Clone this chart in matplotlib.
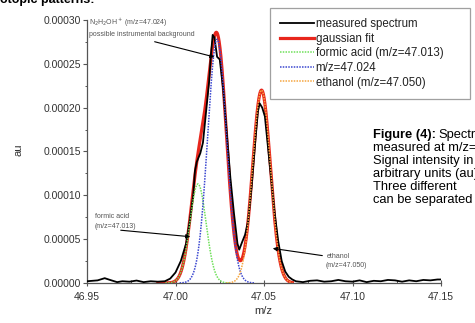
import numpy as np
import matplotlib
matplotlib.use("Agg")
import matplotlib.pyplot as plt
from matplotlib.ticker import MultipleLocator, FormatStrFormatter

plt.rcParams['font.family'] = ['Liberation Sans', 'DejaVu Sans']

# measured spectrum (m/z, au)
mz_meas = [46.950, 46.953, 46.956, 46.960, 46.963, 46.967, 46.970, 46.974, 46.978,
           46.982, 46.986, 46.990, 46.994, 46.997, 47.000, 47.003, 47.006, 47.008,
           47.010, 47.011, 47.012, 47.014, 47.0155, 47.017, 47.019, 47.020, 47.021,
           47.022, 47.0235, 47.025, 47.027, 47.029, 47.031, 47.033, 47.035, 47.036,
           47.0375, 47.0393, 47.041, 47.043, 47.045, 47.0465, 47.0475, 47.049,
           47.0505, 47.052, 47.054, 47.056, 47.058, 47.060, 47.062, 47.064, 47.066,
           47.068, 47.072, 47.076, 47.080, 47.084, 47.088, 47.092, 47.096, 47.100,
           47.104, 47.108, 47.112, 47.116, 47.120, 47.124, 47.128, 47.132, 47.136,
           47.140, 47.144, 47.148, 47.150]
au_meas = [2.0e-6, 2.5e-6, 3.0e-6, 5.5e-6, 3.5e-6, 1.0e-6, 2.0e-6, 1.5e-6, 2.8e-6,
           1.0e-6, 2.0e-6, 1.5e-6, 2.0e-6, 5.0e-6, 1.2e-5, 2.5e-5, 4.5e-5, 7.0e-5,
           1.0e-4, 1.28e-4, 1.38e-4, 1.48e-4, 1.60e-4, 1.90e-4, 2.30e-4, 2.60e-4, 2.83e-4,
           2.80e-4, 2.58e-4, 2.55e-4, 2.20e-4, 1.70e-4, 1.20e-4, 8.0e-5, 4.5e-5, 3.8e-5,
           4.6e-5, 5.5e-5, 7.0e-5, 1.10e-4, 1.60e-4, 1.95e-4, 2.05e-4, 2.00e-4,
           1.90e-4, 1.60e-4, 1.20e-4, 8.0e-5, 4.8e-5, 2.5e-5, 1.3e-5, 7.0e-6, 4.0e-6,
           2.0e-6, 1.0e-6, 2.5e-6, 3.0e-6, 1.5e-6, 2.0e-6, 3.5e-6, 2.0e-6, 1.5e-6,
           3.0e-6, 1.0e-6, 2.5e-6, 2.0e-6, 3.5e-6, 3.0e-6, 1.5e-6, 3.0e-6, 2.0e-6,
           3.5e-6, 3.0e-6, 4.0e-6, 4.0e-6]

# gaussian components: formic acid, m/z=47.024, ethanol
comp_labels = ["formic acid (m/z=47.013)", "m/z=47.024", "ethanol (m/z=47.050)"]
comp_center = [47.0127, 47.0235, 47.0486]
comp_height = [1.13e-4, 2.78e-4, 2.20e-4]
comp_sigma = [0.0046, 0.0053, 0.0050]
comp_colors = ["#6fe05a", "#3a46d0", "#f5a640"]

fig = plt.figure(figsize=(4.75, 3.23), dpi=100)
W, H = 475, 323
ax = fig.add_axes([87 / W, 1 - 283 / H, (441 - 87) / W, (283 - 20) / H])

x = np.linspace(46.99, 47.066, 600)
comps = [h * np.exp(-(x - c) ** 2 / (2 * s ** 2))
         for c, h, s in zip(comp_center, comp_height, comp_sigma)]
fit = np.sum(comps, axis=0)

ax.plot(x, fit, color="#e8261c", lw=2.3, zorder=2, label="gaussian fit")
ax.plot(mz_meas, au_meas, color="black", lw=1.3, zorder=3, label="measured spectrum")
for i in range(3):
    c, s = comp_center[i], comp_sigma[i]
    m = (x > c - 4 * s) & (x < c + 4 * s)
    ax.plot(x[m], comps[i][m], color=comp_colors[i], lw=1.1, ls=(0, (1, 0.8)),
            zorder=4, label=comp_labels[i])

ax.set_xlim(46.95, 47.15)
ax.set_ylim(0, 0.0003)
for sp in ["top", "right"]:
    ax.spines[sp].set_visible(False)
for sp in ["left", "bottom"]:
    ax.spines[sp].set_color("#555555")
    ax.spines[sp].set_linewidth(0.9)

ax.xaxis.set_major_locator(MultipleLocator(0.05))
ax.xaxis.set_minor_locator(MultipleLocator(0.025))
ax.yaxis.set_major_locator(MultipleLocator(0.00005))
ax.yaxis.set_minor_locator(MultipleLocator(0.000025))
ax.xaxis.set_major_formatter(FormatStrFormatter("%.2f"))
ax.yaxis.set_major_formatter(FormatStrFormatter("%.5f"))
ax.tick_params(axis="x", which="major", direction="inout", length=5, width=0.8,
               color="#555555", labelsize=7.5, labelcolor="#333333", pad=4)
ax.tick_params(axis="x", which="minor", direction="in", length=2.5, width=0.7, color="#555555")
ax.tick_params(axis="y", which="major", direction="out", length=3, width=0.8,
               color="#555555", labelsize=7.5, labelcolor="#333333", pad=1.5)
ax.tick_params(axis="y", which="minor", direction="out", length=1.5, width=0.7, color="#555555")

fig.text(18 / W, 1 - 150 / H, "au", rotation=90, ha="center", va="center",
         fontsize=8, color="#333333")
fig.text(263 / W, 1 - 311 / H, "m/z", ha="center", va="center", fontsize=8, color="#333333")

# annotations
acol = "#555555"
ax.text(46.951, 0.000297, r"N$_2$H$_2$OH$^+$ (m/z=47.024)", fontsize=5, color=acol,
        va="center", ha="left")
ax.text(46.951, 0.000284, "possible instrumental background", fontsize=5, color=acol,
        va="center", ha="left")
ax.annotate("", xy=(47.0235, 0.000257), xytext=(46.9867, 0.000276),
            arrowprops=dict(arrowstyle="-|>", color="black", lw=0.8, mutation_scale=6),
            zorder=6)
ax.text(46.9545, 0.0000764, "formic acid", fontsize=5, color=acol, va="center", ha="left")
ax.text(46.9545, 0.0000639, "(m/z=47.013)", fontsize=5, color=acol, va="center", ha="left")
ax.annotate("", xy=(47.0099, 0.0000525), xytext=(46.9675, 0.0000605),
            arrowprops=dict(arrowstyle="-|>", color="black", lw=0.8, mutation_scale=6),
            zorder=6)
ax.text(47.0855, 0.0000297, "ethanol", fontsize=5, color=acol, va="center", ha="left")
ax.text(47.085, 0.0000194, "(m/z=47.050)", fontsize=5, color=acol, va="center", ha="left")
ax.annotate("", xy=(47.0534, 0.0000399), xytext=(47.0845, 0.0000308),
            arrowprops=dict(arrowstyle="-|>", color="black", lw=0.8, mutation_scale=6),
            zorder=6)

# legend
handles, labels = ax.get_legend_handles_labels()
order = [1, 0, 2, 3, 4]
leg = fig.legend([handles[i] for i in order], [labels[i] for i in order],
                 loc="upper left", bbox_to_anchor=(270 / W, 1 - 8 / H, 200 / W, 0.0),
                 mode="expand", fontsize=8.3, frameon=True, fancybox=False,
                 edgecolor="#888888", borderpad=0.9, labelspacing=0.22,
                 handlelength=2.9, handletextpad=0.15, borderaxespad=0)
leg.get_frame().set_linewidth(0.9)
for t in leg.get_texts():
    t.set_color("#222222")

# surrounding page text
fig.text(0.0, 1 - 3.5 / H, "otopic patterns:", fontsize=9, fontweight="bold",
         va="baseline", ha="left")
fig.canvas.draw()
fs = 9.3
t1 = fig.text(373 / W, 1 - 135 / H, "Figure (4):", fontsize=fs, fontweight="bold",
              va="center", ha="left")
bb = t1.get_window_extent(fig.canvas.get_renderer())
fig.text(bb.x1 / W + 2 / W, 1 - 135 / H, "Spectrum", fontsize=fs, va="center", ha="left")
lines = ["measured at m/z=47", "Signal intensity in", "arbitrary units (au).",
         "Three different", "can be separated"]
for i, s in enumerate(lines):
    fig.text(373 / W, 1 - (148 + 13 * i) / H, s, fontsize=fs, va="center", ha="left")

fig.savefig("out.png", dpi=100)
